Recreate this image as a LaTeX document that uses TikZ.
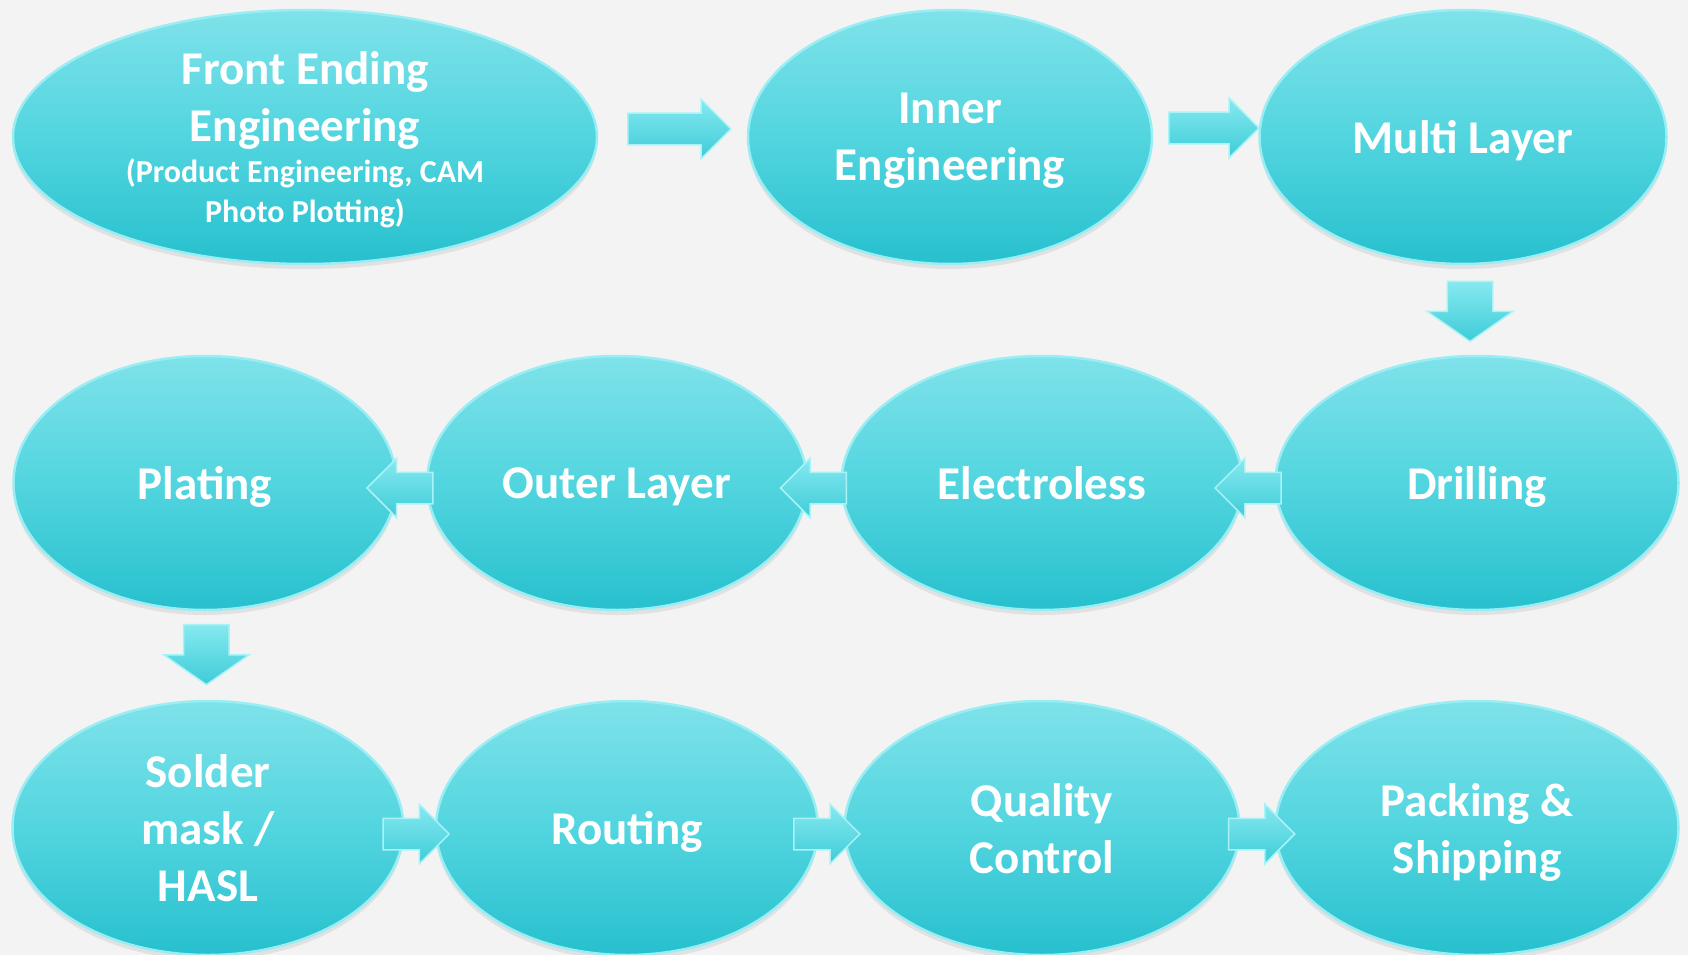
\documentclass[tikz,border=0pt]{standalone}
\usepackage{fontspec}
\setmainfont{Carlito}
\usetikzlibrary{shapes.geometric,shapes.arrows,shadows}
\definecolor{bgpaper}{HTML}{F3F3F3}
\definecolor{stagetop}{HTML}{7FE2EA}
\definecolor{stagemid}{HTML}{52D5DF}
\definecolor{stagebottom}{HTML}{27C0CE}
\definecolor{stageedge}{HTML}{9AEEF3}
\definecolor{arrowtop}{HTML}{86E9F0}
\definecolor{arrowbottom}{HTML}{3ECCD8}
\definecolor{arrowedge}{HTML}{A9F3F7}
\newcommand{\notefont}{\fontsize{32}{39}\selectfont}
\tikzset{
    stage/.style = {
        ellipse,
        draw = stageedge,
        line width = 2.5pt,
        top color = stagetop,
        bottom color = stagebottom,
        middle color = stagemid,
        text = white,
        font = \bfseries\fontsize{47}{57}\selectfont,
        align = center,
        inner sep = 0pt,
        text depth = 0pt,
        minimum height = 254pt,
        drop shadow = {opacity = 0.15, shadow xshift = 0pt, shadow yshift = -5pt}
    },
    flow/.style = {
        single arrow,
        draw = arrowedge,
        line width = 1.5pt,
        top color = arrowtop,
        bottom color = arrowbottom,
        inner xsep = 0pt,
        inner ysep = 15pt,
        minimum width = 58pt,
        minimum height = 66pt,
        single arrow head extend = 14pt,
        single arrow head indent = 0pt,
        single arrow tip angle = 90
    },
    flow right/.style = {flow, xshift = -7pt},
    flow left/.style = {flow, shape border rotate = 180, xshift = 7pt},
    flow down/.style = {
        flow,
        shape border rotate = 270,
        yshift = 7pt,
        inner xsep = 22pt,
        inner ysep = 0pt,
        minimum width = 85pt,
        minimum height = 60pt,
        single arrow head extend = 20pt,
        single arrow tip angle = 110
    }
}
\begin{document}
\begin{tikzpicture}[x = 1pt, y = -1pt]
    \fill[bgpaper] (0,0) rectangle (1688,955);
    \useasboundingbox (0,0) rectangle (1688,955);

    % first row
    \node[stage, minimum width = 584pt, inner ysep = -25pt, text depth = -3pt] (front) at (305,137)
        {Front Ending\\Engineering\\[-16pt]{\notefont(Product Engineering, CAM}\\[-17pt]{\notefont Photo Plotting)}};
    \node[stage, minimum width = 404pt] (inner) at (950,137) {Inner\\Engineering};
    \node[stage, minimum width = 407pt] (multi) at (1463,137) {Multi Layer};

    % second row
    \node[stage, minimum width = 403pt] (drilling) at (1477,483) {Drilling};
    \node[stage, minimum width = 401pt] (electroless) at (1042,483) {Electroless};
    \node[stage, minimum width = 380pt] (outer) at (617,483) {Outer Layer};
    \node[stage, minimum width = 383pt] (plating) at (205,483) {Plating};

    % third row
    \node[stage, minimum width = 391pt] (solder) at (208,828) {Solder\\mask /\\HASL};
    \node[stage, minimum width = 382pt] (routing) at (627,828) {Routing};
    \node[stage, minimum width = 395pt] (quality) at (1042,828) {Quality\\Control};
    \node[stage, minimum width = 403pt] (packing) at (1477,828) {Packing \&\\Shipping};

    % arrows
    \path (front.east) -- node[flow right, pos = 0.54, yshift = 8pt, minimum height = 103pt] {} (inner.west);
    \path (inner.east) -- node[flow right, pos = 0.57, yshift = 9pt, minimum height = 90pt] {} (multi.west);
    \path (multi.south) -- node[flow down, pos = 0.505] {} (drilling.north);
    \path (drilling.west) -- node[flow left, pos = 0.83, yshift = -5pt] {} (electroless.east);
    \path (electroless.west) -- node[flow left, pos = 0.81, yshift = -5pt] {} (outer.east);
    \path (outer.west) -- node[flow left, pos = 0.89, yshift = -5pt] {} (plating.east);
    \path (plating.south) -- node[flow down, pos = 0.48] {} (solder.north);
    \path (solder.east) -- node[flow right, pos = 0.35, yshift = -6pt] {} (routing.west);
    \path (routing.east) -- node[flow right, pos = 0.28, yshift = -6pt] {} (quality.west);
    \path (quality.east) -- node[flow right, pos = 0.6, yshift = -6pt] {} (packing.west);

\end{tikzpicture}
\end{document}
